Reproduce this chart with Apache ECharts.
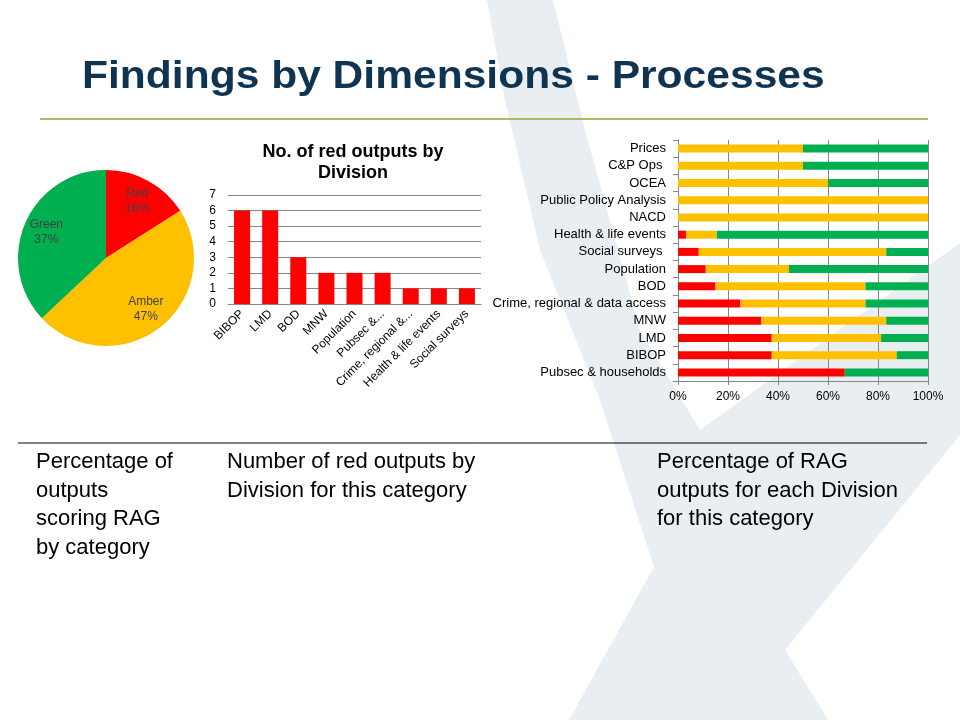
<!DOCTYPE html>
<html><head><meta charset="utf-8">
<script src="https://cdn.jsdelivr.net/npm/echarts@6/dist/echarts.min.js"></script>
<style>html,body{margin:0;padding:0;background:#fff}#c{width:960px;height:720px}</style>
</head><body><div id="c"></div>
<script>
// ---- data ----
const ragNames = ['Red', 'Amber', 'Green'];
const ragShares = [16, 47, 37];

const redCats = ['BIBOP', 'LMD', 'BOD', 'MNW', 'Population', 'Pubsec &...', 'Crime, regional &...', 'Health & life events', 'Social surveys'];
const redCounts = [6, 6, 3, 2, 2, 2, 1, 1, 1];

const divCats = ['Pubsec & households', 'BIBOP', 'LMD', 'MNW', 'Crime, regional & data access', 'BOD', 'Population', 'Social surveys ', 'Health & life events', 'NACD', 'Public Policy Analysis', 'OCEA', 'C&P Ops ', 'Prices'];
const redPct   = [66.7, 37.5, 37.5, 33.3, 25, 15, 11.1, 8.3, 3.2, 0, 0, 0, 0, 0];
const amberPct = [0, 50, 43.75, 50, 50, 60, 33.3, 75, 12.3, 100, 100, 60, 50, 50];
const greenPct = [33.3, 12.5, 18.75, 16.7, 25, 25, 55.6, 16.7, 84.5, 0, 0, 40, 50, 50];

const titleText = 'Findings by Dimensions - Processes';
const barTitle = 'No. of red outputs by\nDivision';
const captions = [
  ['Percentage of', 'outputs', 'scoring RAG', 'by category'],
  ['Number of red outputs by', 'Division for this category'],
  ['Percentage of RAG', 'outputs for each Division', 'for this category']
];

// ---- styles ----
const FONT = '"Liberation Sans", Arial, sans-serif';
const RED = '#ff0000', AMBER = '#ffc000', GREEN = '#00b050';
const ragColors = [RED, AMBER, GREEN];
const GRIDC = '#868686';

const chart = echarts.init(document.getElementById('c'), null, {renderer: 'canvas'});

const pieData = ragNames.map((n, i) => ({name: n, value: ragShares[i], itemStyle: {color: ragColors[i]}}));
const pieLabelData = ragNames.map((n, i) => ({name: n, value: ragShares[i]}));

const option = {
  backgroundColor: '#ffffff',
  animation: false,
  textStyle: {fontFamily: FONT},
  title: [{
    text: barTitle,
    left: 348, top: 137, textAlign: 'center',
    textStyle: {fontFamily: FONT, fontSize: 18, fontWeight: 'bold', color: '#000', lineHeight: 21}
  }],
  graphic: [
    {
      type: 'polygon', z: -10, silent: true,
      shape: {points: [[487, 0], [553, 0], [585, 130], [640, 330], [700, 430], [960, 243], [960, 435], [785, 650], [828, 720], [569, 720], [654, 567], [600, 400], [540, 250], [505, 100]]},
      style: {fill: '#e9eef3'}
    },
    {type: 'line', shape: {x1: 40, y1: 119, x2: 928, y2: 119}, style: {stroke: '#9aa13c', lineWidth: 1.5}},
    {type: 'line', shape: {x1: 18, y1: 443, x2: 927, y2: 443}, style: {stroke: '#000', lineWidth: 1}},
    {
      type: 'text', x: 82, y: 77.5, scaleX: 1.12,
      style: {text: titleText, fontFamily: FONT, fontSize: 38, fontWeight: 'bold', fill: '#0e3452', align: 'left', verticalAlign: 'middle'}
    },
    {type: 'text', x: 36, y: 448, style: {text: captions[0].join('\n'), fontFamily: FONT, fontSize: 22, lineHeight: 28.5, fill: '#000', align: 'left', verticalAlign: 'top'}},
    {type: 'text', x: 227, y: 448, style: {text: captions[1].join('\n'), fontFamily: FONT, fontSize: 22, lineHeight: 28.5, fill: '#000', align: 'left', verticalAlign: 'top'}},
    {type: 'text', x: 657, y: 448, style: {text: captions[2].join('\n'), fontFamily: FONT, fontSize: 22, lineHeight: 28.5, fill: '#000', align: 'left', verticalAlign: 'top'}}
  ],
  grid: [
    {left: 228, right: 479, top: 195, bottom: 416, containLabel: false},
    {left: 678, right: 32, top: 140, bottom: 339, containLabel: false}
  ],
  xAxis: [
    {
      gridIndex: 0, type: 'category', data: redCats,
      axisLine: {show: true, lineStyle: {color: GRIDC}},
      axisTick: {show: false},
      axisLabel: {interval: 0, rotate: 45, fontSize: 12, color: '#000', fontFamily: FONT, margin: 8}
    },
    {
      gridIndex: 1, type: 'value', min: 0, max: 100, interval: 20,
      axisLine: {show: true, lineStyle: {color: GRIDC}},
      axisTick: {show: true, length: 4, lineStyle: {color: GRIDC}},
      splitLine: {show: true, lineStyle: {color: GRIDC}},
      axisLabel: {formatter: '{value}%', fontSize: 12, color: '#000', fontFamily: FONT, margin: 10}
    }
  ],
  yAxis: [
    {
      gridIndex: 0, type: 'value', min: 0, max: 7, interval: 1,
      axisLine: {show: false}, axisTick: {show: false},
      splitLine: {show: true, lineStyle: {color: GRIDC}},
      axisLabel: {fontSize: 12, color: '#000', fontFamily: FONT, margin: 12}
    },
    {
      gridIndex: 1, type: 'category', data: divCats,
      axisLine: {show: true, lineStyle: {color: GRIDC}},
      axisTick: {show: true, length: 5, lineStyle: {color: GRIDC}},
      axisLabel: {interval: 0, fontSize: 13, color: '#000', fontFamily: FONT, margin: 12}
    }
  ],
  series: [
    {
      type: 'pie', center: [106, 258], radius: 88, startAngle: 90, clockwise: true,
      silent: true, label: {show: false}, labelLine: {show: false},
      itemStyle: {borderWidth: 0},
      data: pieData
    },
    {
      type: 'pie', center: [106, 258], radius: [36, 88], startAngle: 90, clockwise: true,
      silent: true, labelLine: {show: false},
      itemStyle: {color: 'rgba(0,0,0,0)', borderWidth: 0},
      label: {show: true, position: 'inside', formatter: '{b}\n{d}%', fontSize: 12, lineHeight: 15, color: '#404040', fontFamily: FONT},
      data: pieLabelData
    },
    {
      type: 'bar', xAxisIndex: 0, yAxisIndex: 0, data: redCounts, barWidth: 16,
      itemStyle: {color: RED}, silent: true
    },
    {type: 'bar', name: 'Red', xAxisIndex: 1, yAxisIndex: 1, stack: 'rag', data: redPct, barWidth: 8, itemStyle: {color: RED}, silent: true},
    {type: 'bar', name: 'Amber', xAxisIndex: 1, yAxisIndex: 1, stack: 'rag', data: amberPct, barWidth: 8, itemStyle: {color: AMBER}, silent: true},
    {type: 'bar', name: 'Green', xAxisIndex: 1, yAxisIndex: 1, stack: 'rag', data: greenPct, barWidth: 8, itemStyle: {color: GREEN}, silent: true}
  ]
};
chart.setOption(option);
</script>
</body></html>
